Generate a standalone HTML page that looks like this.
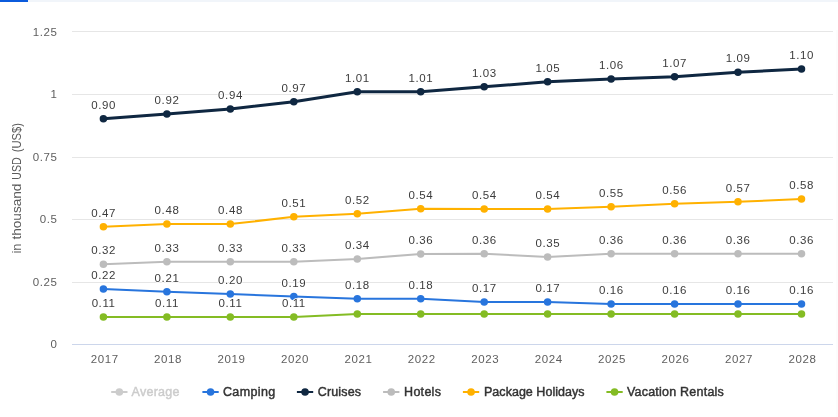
<!DOCTYPE html>
<html><head><meta charset="utf-8"><title>Chart</title>
<style>
html,body{margin:0;padding:0;background:#fff;}
body{width:838px;height:417px;overflow:hidden;position:relative;}
svg{display:block;position:absolute;left:0;top:0;}
text{font-family:"Liberation Sans",sans-serif;font-size:11.5px;}
.ax{fill:#5e5e5e;letter-spacing:0.6px;}
.yt{fill:#5c5c5c;font-size:12.5px;}
.dl{fill:#3c3c3c;letter-spacing:0.6px;paint-order:stroke;stroke:#fff;stroke-width:1.7px;stroke-linejoin:round;}
.lg{font-weight:normal;fill:#333;stroke:#333;stroke-width:0.45px;font-size:12.5px;}
</style></head><body>
<svg width="838" height="417">
<rect x="0" y="0" width="838" height="417" fill="#ffffff"/>
<rect x="0" y="0" width="838" height="2" fill="#f1f5fa"/>
<rect x="0" y="0" width="28" height="2" fill="#0b5bdc"/>
<path d="M72.0 31.5H833.0" stroke="#e6e6e6" stroke-width="1" fill="none"/>
<path d="M72.0 94.5H833.0" stroke="#e6e6e6" stroke-width="1" fill="none"/>
<path d="M72.0 157.5H833.0" stroke="#e6e6e6" stroke-width="1" fill="none"/>
<path d="M72.0 219.5H833.0" stroke="#e6e6e6" stroke-width="1" fill="none"/>
<path d="M72.0 282.5H833.0" stroke="#e6e6e6" stroke-width="1" fill="none"/>
<rect x="836" y="30" width="2" height="387" fill="#fcfcfc"/>
<path d="M72.0 344.5H833.0" stroke="#ccd6eb" stroke-width="1" fill="none"/>
<text class="ax" x="57.6" y="36" text-anchor="end">1.25</text>
<text class="ax" x="57.6" y="98" text-anchor="end">1</text>
<text class="ax" x="57.6" y="161" text-anchor="end">0.75</text>
<text class="ax" x="57.6" y="223" text-anchor="end">0.5</text>
<text class="ax" x="57.6" y="286" text-anchor="end">0.25</text>
<text class="ax" x="57.6" y="348" text-anchor="end">0</text>
<text class="yt" transform="translate(21,253.60) rotate(-90)" textLength="10.10" lengthAdjust="spacingAndGlyphs">in</text>
<text class="yt" transform="translate(21,239.60) rotate(-90)" textLength="56.00" lengthAdjust="spacingAndGlyphs">thousand</text>
<text class="yt" transform="translate(21,179.70) rotate(-90)" textLength="22.40" lengthAdjust="spacingAndGlyphs">USD</text>
<text class="yt" transform="translate(21,152.30) rotate(-90)" textLength="29.20" lengthAdjust="spacingAndGlyphs">(US$)</text>
<text class="ax" x="104.7" y="363.2" text-anchor="middle">2017</text>
<text class="ax" x="168.1" y="363.2" text-anchor="middle">2018</text>
<text class="ax" x="231.5" y="363.2" text-anchor="middle">2019</text>
<text class="ax" x="295.0" y="363.2" text-anchor="middle">2020</text>
<text class="ax" x="358.4" y="363.2" text-anchor="middle">2021</text>
<text class="ax" x="421.8" y="363.2" text-anchor="middle">2022</text>
<text class="ax" x="485.2" y="363.2" text-anchor="middle">2023</text>
<text class="ax" x="548.7" y="363.2" text-anchor="middle">2024</text>
<text class="ax" x="612.1" y="363.2" text-anchor="middle">2025</text>
<text class="ax" x="675.5" y="363.2" text-anchor="middle">2026</text>
<text class="ax" x="738.9" y="363.2" text-anchor="middle">2027</text>
<text class="ax" x="802.4" y="363.2" text-anchor="middle">2028</text>
<polyline points="103.4,316.9 166.9,316.9 230.3,316.9 293.8,316.9 357.3,314.1 420.7,314.1 484.2,314.1 547.6,314.1 611.1,314.1 674.6,314.1 738.0,314.1 801.5,314.1" fill="none" stroke="#84bc24" stroke-width="2" stroke-linejoin="round" stroke-linecap="round"/>
<circle cx="103.4" cy="316.9" r="3.75" fill="#84bc24"/>
<circle cx="166.9" cy="316.9" r="3.75" fill="#84bc24"/>
<circle cx="230.3" cy="316.9" r="3.75" fill="#84bc24"/>
<circle cx="293.8" cy="316.9" r="3.75" fill="#84bc24"/>
<circle cx="357.3" cy="314.1" r="3.75" fill="#84bc24"/>
<circle cx="420.7" cy="314.1" r="3.75" fill="#84bc24"/>
<circle cx="484.2" cy="314.1" r="3.75" fill="#84bc24"/>
<circle cx="547.6" cy="314.1" r="3.75" fill="#84bc24"/>
<circle cx="611.1" cy="314.1" r="3.75" fill="#84bc24"/>
<circle cx="674.6" cy="314.1" r="3.75" fill="#84bc24"/>
<circle cx="738.0" cy="314.1" r="3.75" fill="#84bc24"/>
<circle cx="801.5" cy="314.1" r="3.75" fill="#84bc24"/>
<polyline points="103.4,289.0 166.9,291.7 230.3,294.0 293.8,296.6 357.3,298.8 420.7,298.8 484.2,301.9 547.6,301.9 611.1,304.1 674.6,304.1 738.0,304.1 801.5,304.1" fill="none" stroke="#2875dd" stroke-width="2" stroke-linejoin="round" stroke-linecap="round"/>
<circle cx="103.4" cy="289.0" r="3.75" fill="#2875dd"/>
<circle cx="166.9" cy="291.7" r="3.75" fill="#2875dd"/>
<circle cx="230.3" cy="294.0" r="3.75" fill="#2875dd"/>
<circle cx="293.8" cy="296.6" r="3.75" fill="#2875dd"/>
<circle cx="357.3" cy="298.8" r="3.75" fill="#2875dd"/>
<circle cx="420.7" cy="298.8" r="3.75" fill="#2875dd"/>
<circle cx="484.2" cy="301.9" r="3.75" fill="#2875dd"/>
<circle cx="547.6" cy="301.9" r="3.75" fill="#2875dd"/>
<circle cx="611.1" cy="304.1" r="3.75" fill="#2875dd"/>
<circle cx="674.6" cy="304.1" r="3.75" fill="#2875dd"/>
<circle cx="738.0" cy="304.1" r="3.75" fill="#2875dd"/>
<circle cx="801.5" cy="304.1" r="3.75" fill="#2875dd"/>
<polyline points="103.4,264.2 166.9,261.7 230.3,261.7 293.8,261.7 357.3,258.9 420.7,253.9 484.2,253.8 547.6,256.9 611.1,253.7 674.6,253.7 738.0,253.7 801.5,253.7" fill="none" stroke="#bcbcbc" stroke-width="2" stroke-linejoin="round" stroke-linecap="round"/>
<circle cx="103.4" cy="264.2" r="3.75" fill="#bcbcbc"/>
<circle cx="166.9" cy="261.7" r="3.75" fill="#bcbcbc"/>
<circle cx="230.3" cy="261.7" r="3.75" fill="#bcbcbc"/>
<circle cx="293.8" cy="261.7" r="3.75" fill="#bcbcbc"/>
<circle cx="357.3" cy="258.9" r="3.75" fill="#bcbcbc"/>
<circle cx="420.7" cy="253.9" r="3.75" fill="#bcbcbc"/>
<circle cx="484.2" cy="253.8" r="3.75" fill="#bcbcbc"/>
<circle cx="547.6" cy="256.9" r="3.75" fill="#bcbcbc"/>
<circle cx="611.1" cy="253.7" r="3.75" fill="#bcbcbc"/>
<circle cx="674.6" cy="253.7" r="3.75" fill="#bcbcbc"/>
<circle cx="738.0" cy="253.7" r="3.75" fill="#bcbcbc"/>
<circle cx="801.5" cy="253.7" r="3.75" fill="#bcbcbc"/>
<polyline points="103.4,226.8 166.9,224.1 230.3,224.1 293.8,216.8 357.3,213.8 420.7,208.8 484.2,208.9 547.6,209.0 611.1,206.8 674.6,203.8 738.0,201.8 801.5,199.0" fill="none" stroke="#ffb100" stroke-width="2" stroke-linejoin="round" stroke-linecap="round"/>
<circle cx="103.4" cy="226.8" r="3.75" fill="#ffb100"/>
<circle cx="166.9" cy="224.1" r="3.75" fill="#ffb100"/>
<circle cx="230.3" cy="224.1" r="3.75" fill="#ffb100"/>
<circle cx="293.8" cy="216.8" r="3.75" fill="#ffb100"/>
<circle cx="357.3" cy="213.8" r="3.75" fill="#ffb100"/>
<circle cx="420.7" cy="208.8" r="3.75" fill="#ffb100"/>
<circle cx="484.2" cy="208.9" r="3.75" fill="#ffb100"/>
<circle cx="547.6" cy="209.0" r="3.75" fill="#ffb100"/>
<circle cx="611.1" cy="206.8" r="3.75" fill="#ffb100"/>
<circle cx="674.6" cy="203.8" r="3.75" fill="#ffb100"/>
<circle cx="738.0" cy="201.8" r="3.75" fill="#ffb100"/>
<circle cx="801.5" cy="199.0" r="3.75" fill="#ffb100"/>
<polyline points="103.4,118.8 166.9,114.1 230.3,109.0 293.8,101.8 357.3,91.8 420.7,91.8 484.2,86.8 547.6,81.8 611.1,79.1 674.6,76.8 738.0,72.2 801.5,69.1" fill="none" stroke="#0f2741" stroke-width="3" stroke-linejoin="round" stroke-linecap="round"/>
<circle cx="103.4" cy="118.8" r="3.75" fill="#0f2741"/>
<circle cx="166.9" cy="114.1" r="3.75" fill="#0f2741"/>
<circle cx="230.3" cy="109.0" r="3.75" fill="#0f2741"/>
<circle cx="293.8" cy="101.8" r="3.75" fill="#0f2741"/>
<circle cx="357.3" cy="91.8" r="3.75" fill="#0f2741"/>
<circle cx="420.7" cy="91.8" r="3.75" fill="#0f2741"/>
<circle cx="484.2" cy="86.8" r="3.75" fill="#0f2741"/>
<circle cx="547.6" cy="81.8" r="3.75" fill="#0f2741"/>
<circle cx="611.1" cy="79.1" r="3.75" fill="#0f2741"/>
<circle cx="674.6" cy="76.8" r="3.75" fill="#0f2741"/>
<circle cx="738.0" cy="72.2" r="3.75" fill="#0f2741"/>
<circle cx="801.5" cy="69.1" r="3.75" fill="#0f2741"/>
<text class="dl" x="103.6" y="307" text-anchor="middle">0.11</text>
<text class="dl" x="167.0" y="307" text-anchor="middle">0.11</text>
<text class="dl" x="230.5" y="307" text-anchor="middle">0.11</text>
<text class="dl" x="293.9" y="307" text-anchor="middle">0.11</text>
<text class="dl" x="103.6" y="279" text-anchor="middle">0.22</text>
<text class="dl" x="167.0" y="282" text-anchor="middle">0.21</text>
<text class="dl" x="230.5" y="284" text-anchor="middle">0.20</text>
<text class="dl" x="293.9" y="287" text-anchor="middle">0.19</text>
<text class="dl" x="357.4" y="289" text-anchor="middle">0.18</text>
<text class="dl" x="420.9" y="289" text-anchor="middle">0.18</text>
<text class="dl" x="484.3" y="292" text-anchor="middle">0.17</text>
<text class="dl" x="547.8" y="292" text-anchor="middle">0.17</text>
<text class="dl" x="611.3" y="294" text-anchor="middle">0.16</text>
<text class="dl" x="674.7" y="294" text-anchor="middle">0.16</text>
<text class="dl" x="738.2" y="294" text-anchor="middle">0.16</text>
<text class="dl" x="801.6" y="294" text-anchor="middle">0.16</text>
<text class="dl" x="103.6" y="254" text-anchor="middle">0.32</text>
<text class="dl" x="167.0" y="252" text-anchor="middle">0.33</text>
<text class="dl" x="230.5" y="252" text-anchor="middle">0.33</text>
<text class="dl" x="293.9" y="252" text-anchor="middle">0.33</text>
<text class="dl" x="357.4" y="249" text-anchor="middle">0.34</text>
<text class="dl" x="420.9" y="244" text-anchor="middle">0.36</text>
<text class="dl" x="484.3" y="244" text-anchor="middle">0.36</text>
<text class="dl" x="547.8" y="247" text-anchor="middle">0.35</text>
<text class="dl" x="611.3" y="244" text-anchor="middle">0.36</text>
<text class="dl" x="674.7" y="244" text-anchor="middle">0.36</text>
<text class="dl" x="738.2" y="244" text-anchor="middle">0.36</text>
<text class="dl" x="801.6" y="244" text-anchor="middle">0.36</text>
<text class="dl" x="103.6" y="217" text-anchor="middle">0.47</text>
<text class="dl" x="167.0" y="214" text-anchor="middle">0.48</text>
<text class="dl" x="230.5" y="214" text-anchor="middle">0.48</text>
<text class="dl" x="293.9" y="207" text-anchor="middle">0.51</text>
<text class="dl" x="357.4" y="204" text-anchor="middle">0.52</text>
<text class="dl" x="420.9" y="199" text-anchor="middle">0.54</text>
<text class="dl" x="484.3" y="199" text-anchor="middle">0.54</text>
<text class="dl" x="547.8" y="199" text-anchor="middle">0.54</text>
<text class="dl" x="611.3" y="197" text-anchor="middle">0.55</text>
<text class="dl" x="674.7" y="194" text-anchor="middle">0.56</text>
<text class="dl" x="738.2" y="192" text-anchor="middle">0.57</text>
<text class="dl" x="801.6" y="189" text-anchor="middle">0.58</text>
<text class="dl" x="103.6" y="109" text-anchor="middle">0.90</text>
<text class="dl" x="167.0" y="104" text-anchor="middle">0.92</text>
<text class="dl" x="230.5" y="99" text-anchor="middle">0.94</text>
<text class="dl" x="293.9" y="92" text-anchor="middle">0.97</text>
<text class="dl" x="357.4" y="82" text-anchor="middle">1.01</text>
<text class="dl" x="420.9" y="82" text-anchor="middle">1.01</text>
<text class="dl" x="484.3" y="77" text-anchor="middle">1.03</text>
<text class="dl" x="547.8" y="72" text-anchor="middle">1.05</text>
<text class="dl" x="611.3" y="69" text-anchor="middle">1.06</text>
<text class="dl" x="674.7" y="67" text-anchor="middle">1.07</text>
<text class="dl" x="738.2" y="62" text-anchor="middle">1.09</text>
<text class="dl" x="801.6" y="59" text-anchor="middle">1.10</text>
<path d="M111.2 392H127.5" stroke="#cccccc" stroke-width="2" fill="none"/>
<circle cx="119.35" cy="392" r="3.8" fill="#cccccc"/>
<text class="lg" x="131.50" y="396.2" textLength="48.00" lengthAdjust="spacing" style="fill:#cccccc;stroke:#cccccc">Average</text>
<path d="M202.4 392H218.7" stroke="#2875dd" stroke-width="2" fill="none"/>
<circle cx="210.55" cy="392" r="3.8" fill="#2875dd"/>
<text class="lg" x="222.90" y="396.2" textLength="52.30" lengthAdjust="spacing">Camping</text>
<path d="M296.9 392H313.2" stroke="#0f2741" stroke-width="2" fill="none"/>
<circle cx="305.05" cy="392" r="3.8" fill="#0f2741"/>
<text class="lg" x="317.70" y="396.2" textLength="43.40" lengthAdjust="spacing">Cruises</text>
<path d="M383.1 392H399.4" stroke="#bcbcbc" stroke-width="2" fill="none"/>
<circle cx="391.25" cy="392" r="3.8" fill="#bcbcbc"/>
<text class="lg" x="404.10" y="396.2" textLength="36.80" lengthAdjust="spacing">Hotels</text>
<path d="M462.9 392H479.2" stroke="#ffb100" stroke-width="2" fill="none"/>
<circle cx="471.05" cy="392" r="3.8" fill="#ffb100"/>
<text class="lg" x="484.00" y="396.2" textLength="100.50" lengthAdjust="spacing">Package Holidays</text>
<path d="M606.4 392H622.7" stroke="#84bc24" stroke-width="2" fill="none"/>
<circle cx="614.55" cy="392" r="3.8" fill="#84bc24"/>
<text class="lg" x="626.90" y="396.2" textLength="96.90" lengthAdjust="spacing">Vacation Rentals</text>
</svg>
</body></html>
